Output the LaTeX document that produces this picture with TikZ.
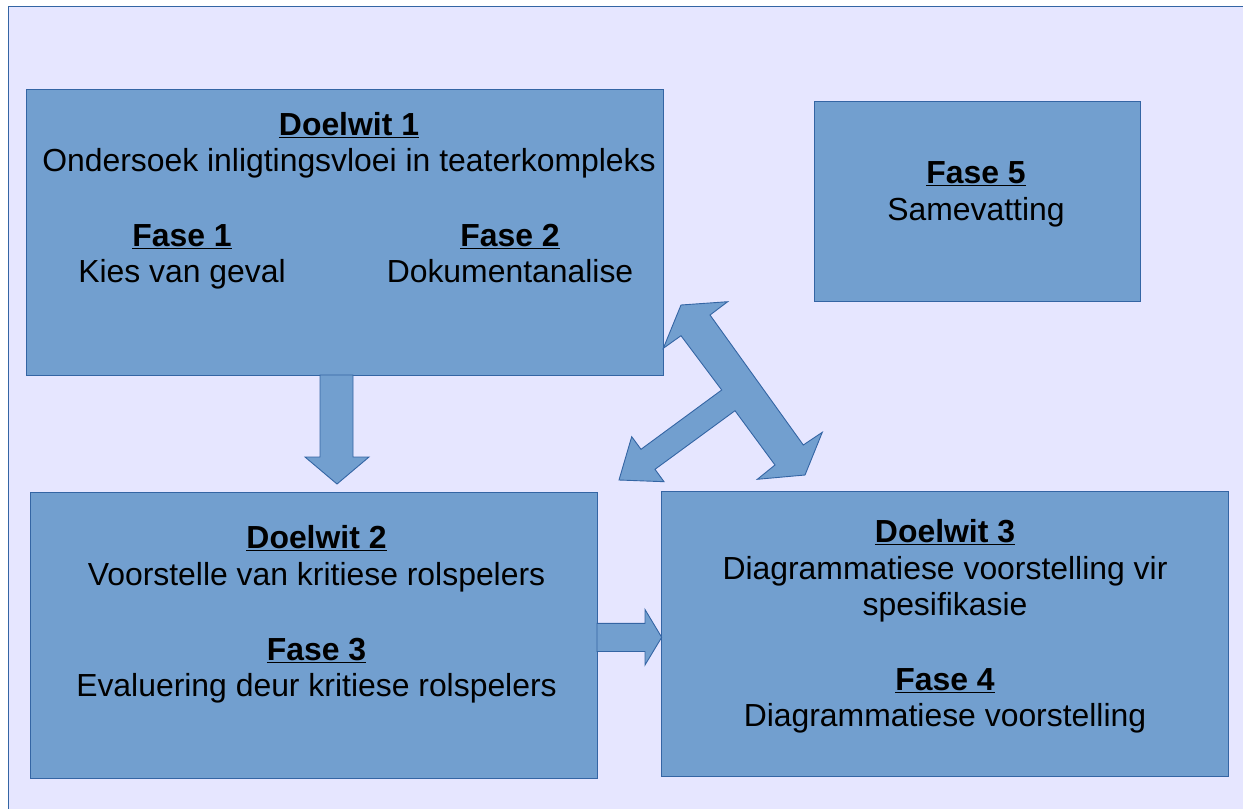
\documentclass[tikz,border=0pt]{standalone}
\usepackage{fontspec}
\setmainfont{Liberation Sans}
\definecolor{bg}{RGB}{230,230,255}
\definecolor{boxfill}{RGB}{114,159,207}
\definecolor{boxline}{RGB}{52,101,164}
\tikzset{
  block/.style={draw=boxline, fill=boxfill, line width=0.9pt, inner sep=0pt, outer sep=0pt},
  txt/.style={anchor=base, inner sep=0pt, font=\fontsize{31.9}{36}\selectfont},
  ttl/.style={txt, font=\fontsize{31.9}{36}\selectfont\bfseries},
  blockarrow/.style={draw=boxline, fill=boxfill, line width=0.9pt, line join=miter},
}
\begin{document}
\begin{tikzpicture}[x=1pt, y=-1pt]
  \useasboundingbox (0,0) rectangle (1243,809);
  \fill[white] (0,0) rectangle (1243,809);
  % page background
  \filldraw[fill=bg, draw=boxline, line width=1pt] (8,6) rectangle (1260,830);

  % boxes
  \node[block, minimum width=637pt, minimum height=286pt] (b1) at (344.5,232) {};
  \node[block, minimum width=326pt, minimum height=200pt] (b5) at (977,201) {};
  \node[block, minimum width=567pt, minimum height=286pt] (b2) at (313.5,635) {};
  \node[block, minimum width=567pt, minimum height=285pt] (b3) at (944.5,633.5) {};

  % block arrows
  \draw[blockarrow] (320,375) -- (320,457) -- (305,457) -- (337,484) -- (369,457)
    -- (353,457) -- (353,375) -- cycle;
  \draw[blockarrow] (597,623.3) -- (645,623.3) -- (645,609.5) -- (661.7,637.3)
    -- (645,665) -- (645,651.5) -- (597,651.5) -- cycle;
  \draw[blockarrow] (681,305) -- (727.7,301.7) -- (710,315) -- (803.3,445)
    -- (822.3,432.3) -- (805,475) -- (757.3,479.3) -- (775,465) -- (735,410.7)
    -- (655,469.3) -- (664,481.7) -- (619,480) -- (631.7,436.7) -- (641,449.3)
    -- (721.7,390) -- (681,335.7) -- (663.3,348.3) -- cycle;

  % texts of the first box
  \node[ttl] (d1) at (349,135) {\underline{Doelwit 1}};
  \node[txt] (d1t) at (349,171) {Ondersoek inligtingsvloei in teaterkompleks};
  \node[ttl] (f1) at (182,246) {\underline{Fase 1}};
  \node[txt] (f1t) at (182,282) {Kies van geval};
  \node[ttl] (f2) at (510,246) {\underline{Fase 2}};
  \node[txt] (f2t) at (510,282) {Dokumentanalise};
  % fifth phase
  \node[ttl] (f5) at (976,183) {\underline{Fase 5}};
  \node[txt] (f5t) at (976,220) {Samevatting};
  % second box
  \node[ttl] (d2) at (316.5,548) {\underline{Doelwit 2}};
  \node[txt] (d2t) at (316.5,585) {Voorstelle van kritiese rolspelers};
  \node[ttl] (f3) at (316.5,660) {\underline{Fase 3}};
  \node[txt] (f3t) at (316.5,696) {Evaluering deur kritiese rolspelers};
  % third box
  \node[ttl] (d3) at (945,542) {\underline{Doelwit 3}};
  \node[txt] (d3t) at (945,579) {Diagrammatiese voorstelling vir};
  \node[txt] (d3u) at (945,615) {spesifikasie};
  \node[ttl] (f4) at (945,690) {\underline{Fase 4}};
  \node[txt] (f4t) at (945,726) {Diagrammatiese voorstelling};
\end{tikzpicture}
\end{document}
